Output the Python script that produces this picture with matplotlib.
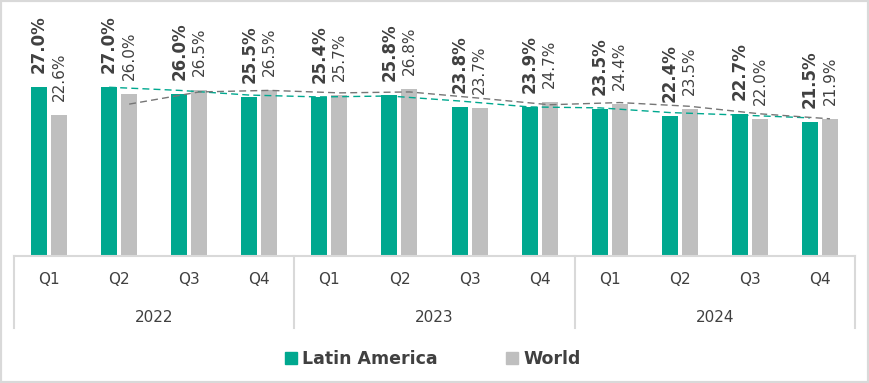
import numpy as np
import pandas as pd
import matplotlib
matplotlib.use("Agg")
import matplotlib.pyplot as plt
from matplotlib.patches import Patch, Rectangle

# data
years = ["2022", "2023", "2024"]
quarters = ["Q1", "Q2", "Q3", "Q4"]
latam = [27.0, 27.0, 26.0, 25.5, 25.4, 25.8, 23.8, 23.9, 23.5, 22.4, 22.7, 21.5]
world = [22.6, 26.0, 26.5, 26.5, 25.7, 26.8, 23.7, 24.7, 24.4, 23.5, 22.0, 21.9]

teal = "#00A88F"
grey = "#BFBFBF"
txt = "#404040"
line_col = "#D9D9D9"

fig = plt.figure(figsize=(8.69, 3.83), dpi=100)
ax = fig.add_axes([14/869, 127/383, 841/869, 250/383])

n = len(latam)
x = np.arange(n) + 0.5
off = 0.143
w = 0.228

ax.bar(x - off, latam, width=w, color=teal, zorder=2)
ax.bar(x + off, world, width=w, color=grey, zorder=2)

# 2-period moving average trendlines (as in the original excel chart)
ma_l = pd.Series(latam).rolling(2).mean()
ma_w = pd.Series(world).rolling(2).mean()
ax.plot(x - off, ma_l, color=teal, lw=1, ls=(0, (5, 3)), zorder=3)
ax.plot(x + off, ma_w, color="#767676", lw=1, ls=(0, (5, 3)), zorder=3)

for i in range(n):
    ax.annotate(f"{latam[i]:.1f}%", (x[i] - off, latam[i]), xytext=(0, 10),
                textcoords="offset points", rotation=90, ha="center", va="bottom",
                fontsize=12, fontweight="bold", color=txt)
    ax.annotate(f"{world[i]:.1f}%", (x[i] + off, world[i]), xytext=(0, 10),
                textcoords="offset points", rotation=90, ha="center", va="bottom",
                fontsize=11, color=txt)

ax.set_xlim(0, n)
ax.set_ylim(0, 40)
for s in ["top", "left", "right"]:
    ax.spines[s].set_visible(False)
ax.spines["bottom"].set_color(line_col)
ax.spines["bottom"].set_linewidth(1.5)
ax.set_xticks([])
ax.set_yticks([])

# multi-level category axis
tr = ax.get_xaxis_transform()
for i in range(n):
    ax.text(x[i], -0.096, quarters[i % 4], transform=tr, ha="center", va="center",
            fontsize=11, color=txt)
for j, yr in enumerate(years):
    ax.text(j*4 + 2, -0.248, yr, transform=tr, ha="center", va="center",
            fontsize=11, color=txt)
for k in range(0, n + 1, 4):
    ax.plot([k, k], [0, -0.288], transform=tr, color=line_col, lw=1.5, clip_on=False)

handles = [Patch(color=teal, label="Latin America"), Patch(color=grey, label="World")]
leg = fig.legend(handles=handles, loc="center", bbox_to_anchor=(0.498, 0.063), ncol=2,
                 frameon=False, handlelength=0.7, handleheight=0.7, handletextpad=0.3,
                 columnspacing=3.9, prop={"weight": "bold", "size": 12.5})
for t in leg.get_texts():
    t.set_color(txt)

fig.patches.append(Rectangle((0, 0), 1, 1, transform=fig.transFigure, fill=False,
                             edgecolor=line_col, lw=3))

fig.savefig("out.png", dpi=100)
